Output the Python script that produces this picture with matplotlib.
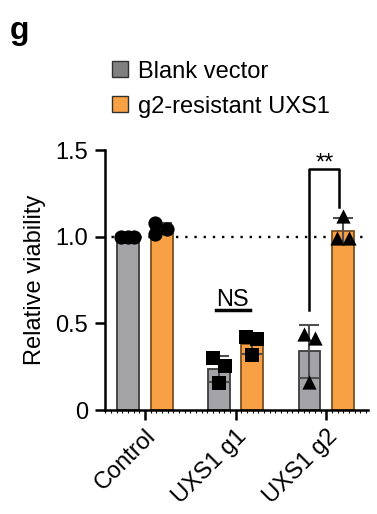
import matplotlib
matplotlib.use("Agg")
import matplotlib.pyplot as plt
import numpy as np
from matplotlib.patches import Patch
from matplotlib.ticker import MultipleLocator
from matplotlib.transforms import ScaledTranslation

plt.rcParams["font.family"] = ["Liberation Sans", "DejaVu Sans"]

GROUPS = ["Control", "UXS1 g1", "UXS1 g2"]
SERIES = ["Blank vector", "g2-resistant UXS1"]
BLANK = [[1.0, 1.0, 1.0], [0.298, 0.254, 0.154], [0.438, 0.414, 0.163]]
RESISTANT = [[1.081, 1.016, 1.044], [0.419, 0.410, 0.317], [1.119, 0.994, 0.994]]
MARKERS = ["o", "s", "^"]
Y_TICKS = [0, 0.5, 1.0, 1.5]
Y_TICK_LABELS = ["0", "0.5", "1.0", "1.5"]

# horizontal scatter of the replicate dots inside each bar
JITTER_BLANK = [[-0.075, 0.0, 0.065], [-0.06, 0.068, 0.0], [-0.057, 0.064, 0.0]]
JITTER_RES = [[-0.07, -0.07, 0.063], [-0.073, 0.055, -0.007], [0.0, -0.066, 0.066]]

GRAY = "#a4a4a8"
ORANGE = "#f7a144"
FS = 17

fig = plt.figure(figsize=(3.77, 5.14), dpi=100)
ax = fig.add_axes([0.2785, 0.2023, 0.6975, 0.5058])

x = np.arange(len(GROUPS))
off = 0.185
width = 0.24

for vals, jit, sign, color, edge in [
    (BLANK, JITTER_BLANK, -1, GRAY, "#3c3c3c"),
    (RESISTANT, JITTER_RES, 1, ORANGE, "#7a4f22"),
]:
    arr = np.array(vals)
    means = arr.mean(axis=1)
    sds = arr.std(axis=1, ddof=1)
    pos = x + sign * off
    ax.bar(pos, means, width, color=color, edgecolor=edge, linewidth=1.3, zorder=2)
    ax.errorbar(pos, means, yerr=sds, fmt="none", ecolor="#505050",
                elinewidth=1.5, capsize=7, capthick=1.5, zorder=3)
    for i in range(len(GROUPS)):
        ax.scatter(pos[i] + np.array(jit[i]), arr[i], marker=MARKERS[i],
                   s=105, color="black", zorder=4, clip_on=False, linewidths=0)

ax.axhline(1.0, color="black", linestyle=(1.14, (1, 2.9)), linewidth=1.7, zorder=1)

ax.set_xlim(-0.44, 2.46)
ax.set_ylim(0, 1.5)
ax.set_yticks(Y_TICKS)
ax.set_yticklabels(Y_TICK_LABELS)
ax.set_xticks(x)
ax.set_xticklabels(GROUPS, rotation=45, ha="right", rotation_mode="anchor")
shift = ScaledTranslation(-0.07, -0.01, fig.dpi_scale_trans)
for lbl in ax.get_xticklabels():
    lbl.set_transform(lbl.get_transform() + shift)
ax.xaxis.set_minor_locator(MultipleLocator(1 / 16))
ax.tick_params(axis="both", which="major", length=7, width=1.8, labelsize=FS, pad=4)
ax.tick_params(axis="y", pad=5)
ax.tick_params(axis="x", which="minor", length=2.5, width=0.8)
ax.set_ylabel("Relative viability", fontsize=FS, labelpad=7)

for s in ["top", "right"]:
    ax.spines[s].set_visible(False)
for s in ["left", "bottom"]:
    ax.spines[s].set_linewidth(1.8)

# NS annotation for g1
ax.plot([0.78, 1.16], [0.577, 0.577], color="black", linewidth=2.5)
ax.text(0.97, 0.60, "NS", ha="center", va="baseline", fontsize=FS)

# ** bracket for g2
ax.plot([2 - off, 2 - off, 2 + off - 0.04, 2 + off - 0.04],
        [0.577, 1.39, 1.39, 1.173], color="black", linewidth=1.8, clip_on=False)
ax.text(2 - 0.02, 1.385, "**", ha="center", va="baseline", fontsize=FS)

handles = [Patch(facecolor="#808080", edgecolor="#303030", linewidth=1.0),
           Patch(facecolor=ORANGE, edgecolor="#303030", linewidth=1.0)]
fig.legend(handles, SERIES, loc="upper left", bbox_to_anchor=(0.297, 0.882),
           frameon=False, fontsize=FS, handlelength=0.68, handleheight=0.68,
           handletextpad=0.42, labelspacing=0.55, borderaxespad=0, borderpad=0)

fig.text(0.027, 0.968, "g", fontsize=23, fontweight="bold", va="top", ha="left")

fig.savefig("out.png", dpi=100)
